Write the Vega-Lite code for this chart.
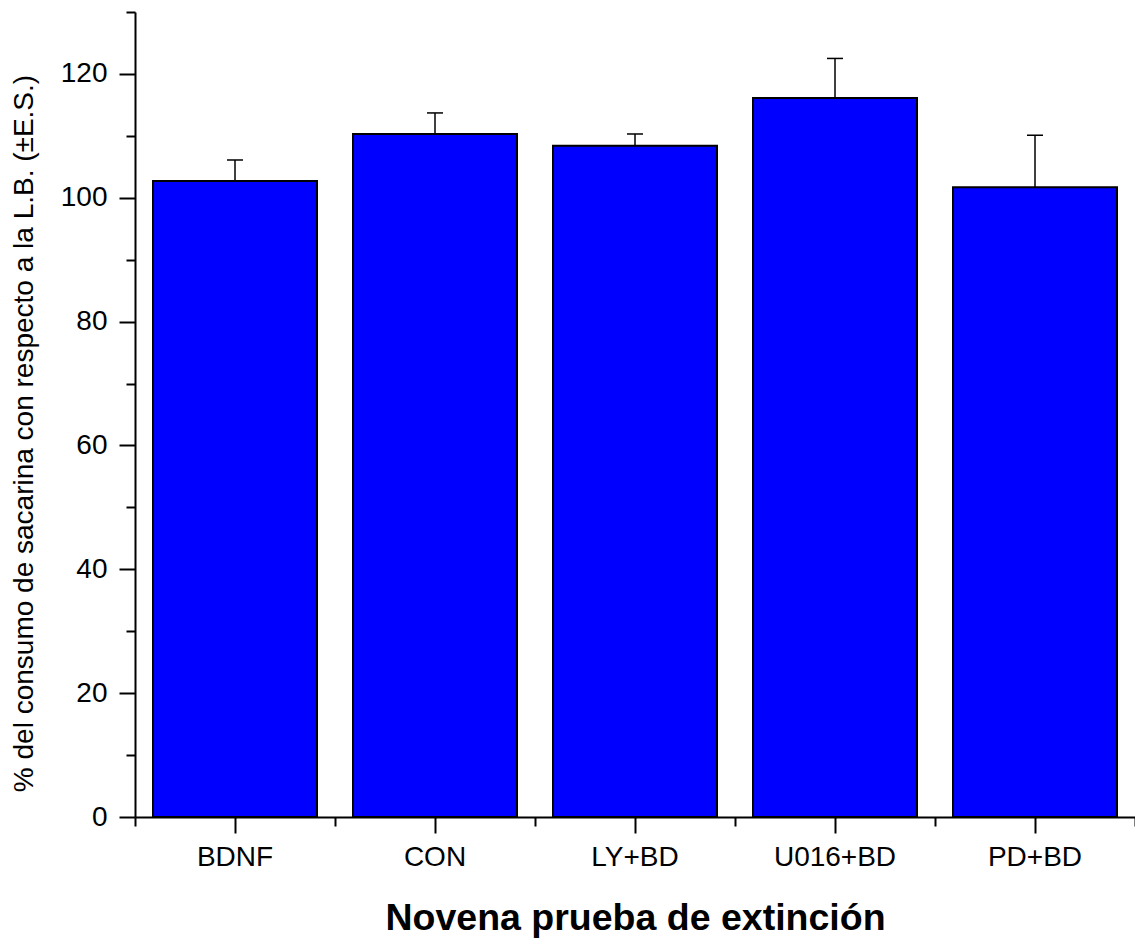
{
  "$schema": "https://vega.github.io/schema/vega-lite/v6.json",
  "width": 1000,
  "height": 805,
  "autosize": {"type": "none"},
  "padding": {"left": 135, "top": 12, "right": 0, "bottom": 121},
  "background": "white",
  "config": {
    "view": {"stroke": null},
    "font": "Liberation Sans",
    "axis": {
      "grid": false,
      "domainColor": "black",
      "tickColor": "black",
      "labelColor": "black",
      "titleColor": "black",
      "domainWidth": 2,
      "tickWidth": 2,
      "labelFont": "Liberation Sans",
      "titleFont": "Liberation Sans"
    }
  },
  "data": {
    "values": [
      {"grupo": "BDNF", "valor": 102.7, "sup": 106.1},
      {"grupo": "CON", "valor": 110.3, "sup": 113.7},
      {"grupo": "LY+BD", "valor": 108.4, "sup": 110.3},
      {"grupo": "U016+BD", "valor": 116.1, "sup": 122.5},
      {"grupo": "PD+BD", "valor": 101.7, "sup": 110.1}
    ]
  },
  "layer": [
    {
      "mark": {"type": "bar", "fill": "#0000FF", "stroke": "black", "strokeWidth": 2},
      "encoding": {
        "x": {
          "field": "grupo", "type": "nominal", "sort": null,
          "scale": {"paddingInner": 0.18, "paddingOuter": 0.09},
          "axis": {
            "orient": "bottom", "tickSize": 16, "labelFontSize": 28, "labelPadding": 10,
            "labelAngle": 0, "title": "Novena prueba de extinción", "titleFontSize": 37.5,
            "titleFontWeight": "bold", "titlePadding": 28
          }
        },
        "y": {
          "field": "valor", "type": "quantitative",
          "scale": {"domain": [0, 130], "nice": false},
          "axis": {
            "orient": "left", "values": [0, 20, 40, 60, 80, 100, 120], "tickSize": 16,
            "labelFontSize": 28, "labelPadding": 12,
            "title": "% del consumo de sacarina con respecto a la L.B. (±E.S.)",
            "titleFontSize": 28, "titleFontWeight": "normal", "titlePadding": 22, "titleY": 421
          }
        }
      }
    },
    {
      "mark": {"type": "rule", "stroke": "black", "strokeWidth": 1.5},
      "encoding": {
        "x": {
          "field": "grupo", "type": "nominal", "sort": null,
          "axis": {"orient": "bottom", "bandPosition": 0, "tickOffset": -18, "tickSize": 9, "labels": false, "domain": false, "title": null}
        },
        "y": {
          "field": "valor", "type": "quantitative",
          "axis": {"orient": "left", "values": [10, 30, 50, 70, 90, 110, 130], "tickSize": 9, "labels": false, "domain": false, "title": null}
        },
        "y2": {"field": "sup"}
      }
    },
    {
      "mark": {"type": "tick", "orient": "horizontal", "size": 16, "thickness": 1.5, "color": "black", "opacity": 1},
      "encoding": {
        "x": {
          "field": "grupo", "type": "nominal", "sort": null,
          "axis": {"orient": "bottom", "values": ["PD+BD"], "bandPosition": 1, "tickOffset": 18, "tickSize": 9, "labels": false, "domain": false, "title": null}
        },
        "y": {"field": "sup", "type": "quantitative", "axis": null}
      }
    }
  ],
  "resolve": {"axis": {"x": "independent", "y": "independent"}}
}
